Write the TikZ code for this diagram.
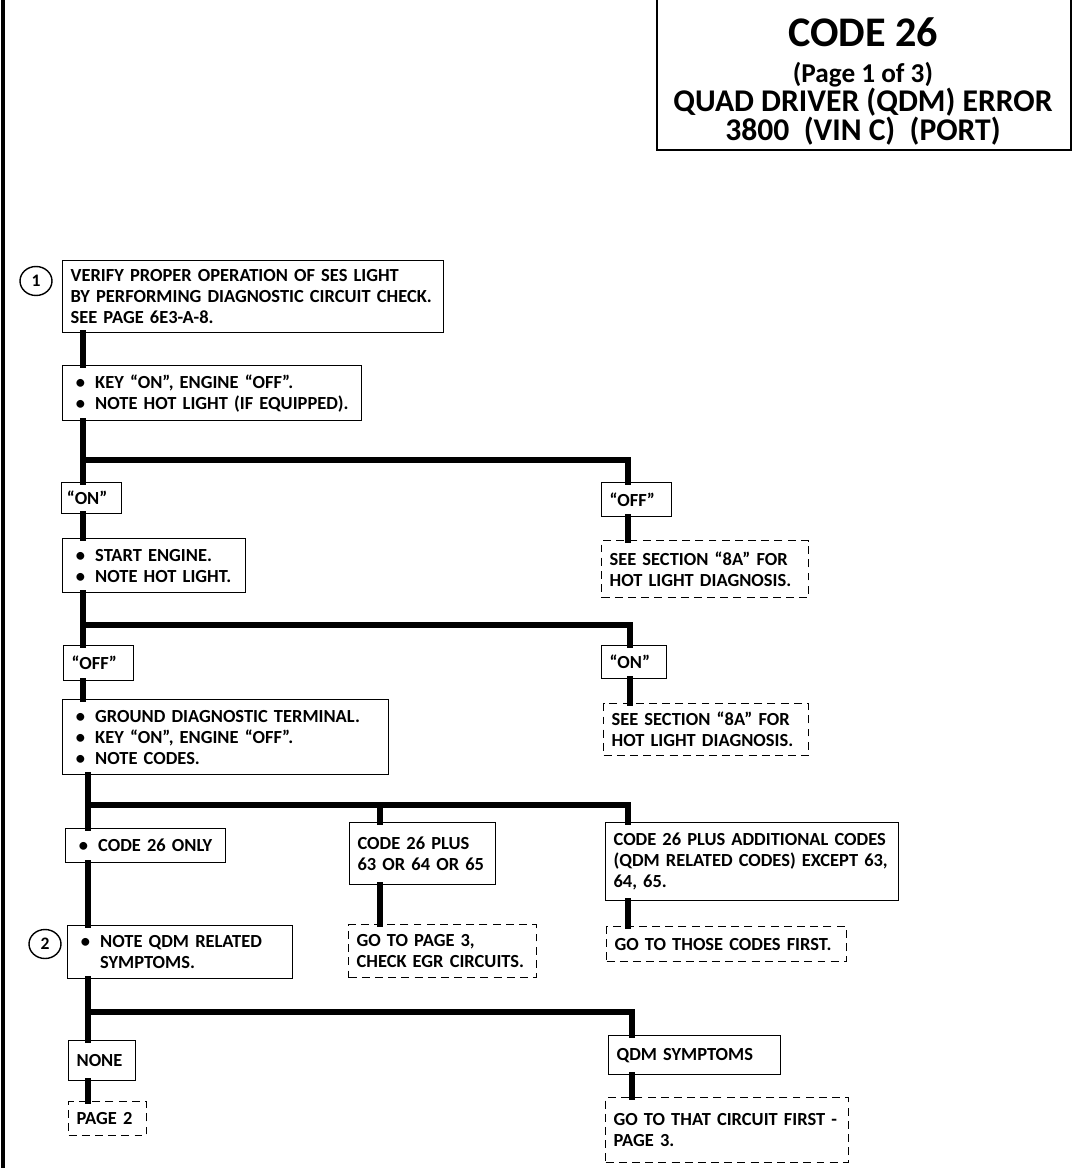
\documentclass[tikz,border=0pt]{standalone}
\usepackage{fontspec}
\setmainfont{Carlito}
\usetikzlibrary{positioning,shapes.geometric}
\newcommand{\bul}{\hspace*{3pt}\makebox[11pt][l]{\textbullet}}
\newcommand{\boxfont}{\fontsize{10.5}{11.9}\selectfont\bfseries\spaceskip=1.8pt plus 0.5pt\relax}
\begin{document}
\begin{tikzpicture}[x=0.02cm,y=-0.02cm,
    box/.style={draw, line width=0.8pt, anchor=north west, align=left, inner xsep=4.5pt, inner ysep=0pt,
      font=\boxfont},
    dbox/.style={box, dash pattern=on 4.5pt off 3pt},
    num/.style={draw, ellipse, line width=0.8pt, minimum width=0.64cm, minimum height=0.58cm, inner sep=0pt, font=\normalsize\bfseries},
    flow/.style={line width=3.4pt, line cap=rect},
    ttl/.style={font=\bfseries}]
    \useasboundingbox (0,0) rectangle (1072,1168);
    \draw[line width=1.8pt] (3,0)--(3,1168);
    \draw[line width=1pt] (657,0)--(657,150)--(1071,150)--(1071,0);
    \node[ttl, font=\fontsize{24}{24}\selectfont\bfseries] (t1) at (863,32) {CODE 26};
    \node[ttl, font=\fontsize{15.5}{15.5}\selectfont\bfseries] (t2) at (863,75) {(Page 1 of 3)};
    \node[ttl, font=\fontsize{18}{18}\selectfont\bfseries] (t3) at (863,102) {QUAD DRIVER (QDM) ERROR};
    \node[ttl, font=\fontsize{18}{18}\selectfont\bfseries] (t4) at (863,131) {3800\ \ (VIN C)\ \ (PORT)};

    \coordinate (j1) at (83,460);
    \coordinate (j2) at (83,625);
    \coordinate (j3) at (88,805);
    \coordinate (j4) at (88,1012);
    \coordinate (mc) at (380,0);
    \coordinate (rc) at (628,0);
    \coordinate (rd) at (630,0);
    \coordinate (rq) at (632,0);

    \node[num] (c1) at (36,281) {1};
    \node[box, text width=7.30cm, minimum height=1.44cm] (b1) at (62,260)
      {VERIFY PROPER OPERATION OF SES LIGHT\\BY PERFORMING DIAGNOSTIC CIRCUIT CHECK.\\SEE PAGE 6E3-A-8.};
    \node[box, text width=5.66cm, minimum height=1.10cm] (b2) at (62,365)
      {\bul KEY “ON”, ENGINE “OFF”.\\\bul NOTE HOT LIGHT (IF EQUIPPED).};
    \node[box, text width=0.98cm, minimum height=0.62cm, inner xsep=3pt] (on1) at (61,482) {“ON”};
    \node[box, text width=1.08cm, minimum height=0.68cm] (off1) at (601,482) {“OFF”};
    \node[box, text width=3.34cm, minimum height=1.08cm] (b3) at (62,538)
      {\bul START ENGINE.\\\bul NOTE HOT LIGHT.};
    \node[dbox, text width=3.82cm, minimum height=1.14cm] (d1) at (601,540)
      {SEE SECTION “8A” FOR\\HOT LIGHT DIAGNOSIS.};
    \node[box, text width=1.08cm, minimum height=0.70cm] (off2) at (63,645) {“OFF”};
    \node[box, text width=0.98cm, minimum height=0.66cm] (on2) at (601,645) {“ON”};
    \node[box, text width=6.20cm, minimum height=1.50cm] (b4) at (62,699)
      {\bul GROUND DIAGNOSTIC TERMINAL.\\\bul KEY “ON”, ENGINE “OFF”.\\\bul NOTE CODES.};
    \node[dbox, text width=3.78cm, minimum height=1.04cm] (d2) at (603,703)
      {SEE SECTION “8A” FOR\\HOT LIGHT DIAGNOSIS.};
    \node[box, text width=2.88cm, minimum height=0.68cm] (only) at (65,828) {\bul CODE 26 ONLY};
    \node[box, text width=2.60cm, minimum height=1.24cm] (plus) at (349,822)
      {CODE 26 PLUS\\\mbox{63 OR 64 OR 65}};
    \node[box, text width=5.54cm, minimum height=1.56cm] (addl) at (605,822)
      {CODE 26 PLUS ADDITIONAL CODES\\(QDM RELATED CODES) EXCEPT 63,\\64, 65.};
    \node[dbox, text width=3.44cm, minimum height=1.06cm] (d3) at (348,924)
      {GO TO PAGE 3,\\CHECK EGR CIRCUITS.};
    \node[dbox, text width=4.48cm, minimum height=0.70cm] (d4) at (606,926)
      {GO TO THOSE CODES FIRST.};
    \node[num] (c2) at (45,944) {2};
    \node[box, text width=4.18cm, minimum height=1.06cm] (b5) at (67,925)
      {\bul NOTE QDM RELATED\\\hspace*{3pt}\makebox[11pt]{}SYMPTOMS.};
    \node[box, text width=1.02cm, minimum height=0.80cm] (none) at (68,1040) {NONE};
    \node[dbox, text width=1.24cm, minimum height=0.68cm] (d5) at (68,1101) {PAGE 2};
    \node[box, text width=3.12cm, minimum height=0.78cm] (qdm) at (608,1035) {QDM SYMPTOMS};
    \node[dbox, text width=4.54cm, minimum height=1.30cm] (d6) at (605,1097)
      {GO TO THAT CIRCUIT FIRST -\\PAGE 3.};

    \draw[flow] (b1.south -| j1)--(b2.north -| j1);
    \draw[flow] (b2.south -| j1)--(on1.north -| j1);
    \draw[flow] (j1) -| (off1.north -| rc);
    \draw[flow] (on1.south -| j1)--(b3.north -| j1);
    \draw[flow] (off1.south -| rc)--(d1.north -| rc);
    \draw[flow] (b3.south -| j2)--(off2.north -| j2);
    \draw[flow] (j2) -| (on2.north -| rd);
    \draw[flow] (off2.south -| j2)--(b4.north -| j2);
    \draw[flow] (on2.south -| rd)--(d2.north -| rd);
    \draw[flow] (b4.south -| j3)--(only.north -| j3);
    \draw[flow] (j3) -| (addl.north -| rc);
    \draw[flow] (j3 -| mc)--(plus.north -| mc);
    \draw[flow] (plus.south -| mc)--(d3.north -| mc);
    \draw[flow] (addl.south -| rc)--(d4.north -| rc);
    \draw[flow] (only.south -| j3)--(b5.north -| j3);
    \draw[flow] (b5.south -| j4)--(none.north -| j4);
    \draw[flow] (j4) -| (qdm.north -| rq);
    \draw[flow] (none.south -| j4)--(d5.north -| j4);
    \draw[flow] (qdm.south -| rq)--(d6.north -| rq);
\end{tikzpicture}
\end{document}
